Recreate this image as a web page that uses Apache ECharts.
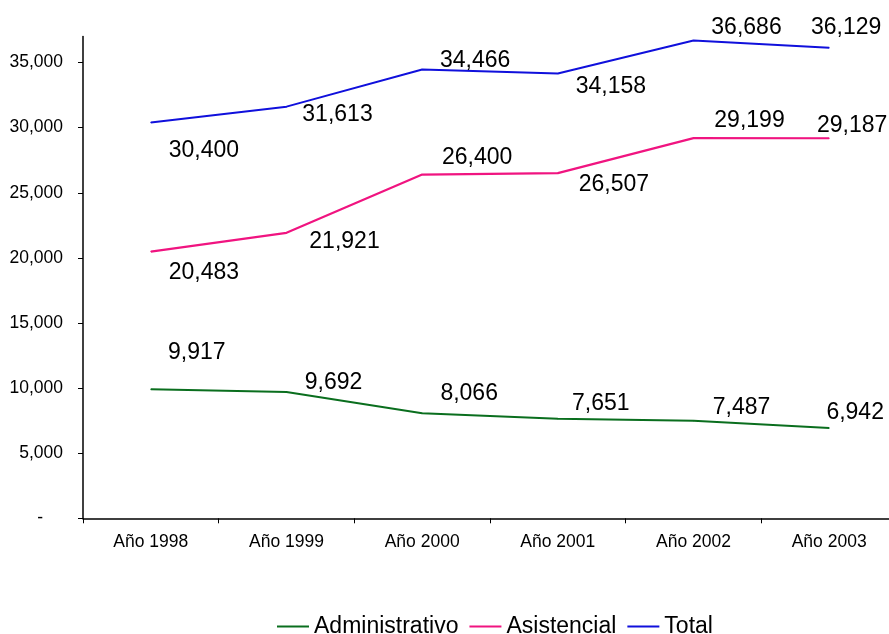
<!DOCTYPE html>
<html>
<head>
<meta charset="utf-8">
<script src="https://cdn.jsdelivr.net/npm/echarts@6/dist/echarts.min.js"></script>
<style>
html,body{margin:0;padding:0;background:#fff;}
#chart{width:889px;height:634px;}
</style>
</head>
<body>
<div id="chart"></div>
<script>
const categories = ['Año 1998', 'Año 1999', 'Año 2000', 'Año 2001', 'Año 2002', 'Año 2003'];
const administrativo = [9917, 9692, 8066, 7651, 7487, 6942];
const asistencial = [20483, 21921, 26400, 26507, 29199, 29187];
const total = [30400, 31613, 34466, 34158, 36686, 36129];
const yTickValues = [0, 5000, 10000, 15000, 20000, 25000, 30000, 35000];
const seriesNames = ['Administrativo', 'Asistencial', 'Total'];

// label placement (layout only)
const shiftAdmin = [[46, -37], [47, -9], [47, -20], [43, -15], [48, -13], [26, -15]];
const shiftAsist = [[53, 21], [58, 9], [55, -17], [56, 12], [56, -17], [23, -13]];
const shiftTotal = [[53, 28.5], [51, 8], [53, -9], [53, 13], [53, -13], [17, -20]];

const FONT = '"Liberation Sans", Arial, sans-serif';
const fmt = v => v.toLocaleString('en-US');

function buildSeries(name, values, shifts, color, width) {
  return {
    name: name,
    type: 'line',
    data: values.map((v, i) => ({
      value: v,
      label: { offset: shifts[i] }
    })),
    symbol: 'circle',
    symbolSize: 1,
    showSymbol: true,
    itemStyle: { color: color },
    lineStyle: { color: color, width: width },
    label: {
      show: true,
      position: 'inside',
      formatter: p => fmt(p.value),
      color: '#000',
      fontSize: 23,
      fontFamily: FONT
    },
    emphasis: { disabled: true },
    animation: false
  };
}

const chart = echarts.init(document.getElementById('chart'), null, { renderer: 'canvas' });
chart.setOption({
  backgroundColor: '#ffffff',
  animation: false,
  grid: { left: 83, top: 36.5, width: 814, height: 481.8, containLabel: false, outerBoundsMode: 'none' },
  legend: {
    data: seriesNames.map(n => ({ name: n, icon: 'rect' })),
    left: 277,
    top: 615,
    padding: 0,
    itemWidth: 32,
    itemHeight: 2,
    itemGap: 11,
    textStyle: { fontSize: 23, color: '#000', fontFamily: FONT },
    selectedMode: false
  },
  xAxis: {
    type: 'category',
    data: categories,
    boundaryGap: true,
    axisLine: { lineStyle: { color: '#000', width: 1.5 } },
    axisTick: { show: true, length: 5, inside: false, lineStyle: { color: '#000' } },
    axisLabel: { fontSize: 17.5, color: '#000', fontFamily: FONT, margin: 15 },
    splitLine: { show: false }
  },
  yAxis: {
    type: 'value',
    min: 0,
    max: 37000,
    interval: 5000,
    axisLine: { show: true, lineStyle: { color: '#000', width: 1.5 } },
    axisTick: { show: true, length: 5, inside: false, customValues: yTickValues, lineStyle: { color: '#000' } },
    axisLabel: {
      customValues: yTickValues,
      fontSize: 17.5,
      color: '#000',
      fontFamily: FONT,
      margin: 20,
      formatter: v => v === 0 ? '{z|-}' : fmt(v),
      rich: { z: { fontSize: 17.5, color: '#000', fontFamily: FONT, padding: [0, 20, 0, 0] } }
    },
    splitLine: { show: false }
  },
  series: [
    buildSeries(seriesNames[0], administrativo, shiftAdmin, '#0a6e1e', 2),
    buildSeries(seriesNames[1], asistencial, shiftAsist, '#f01480', 2.2),
    buildSeries(seriesNames[2], total, shiftTotal, '#1010dc', 2)
  ]
});
</script>
</body>
</html>
